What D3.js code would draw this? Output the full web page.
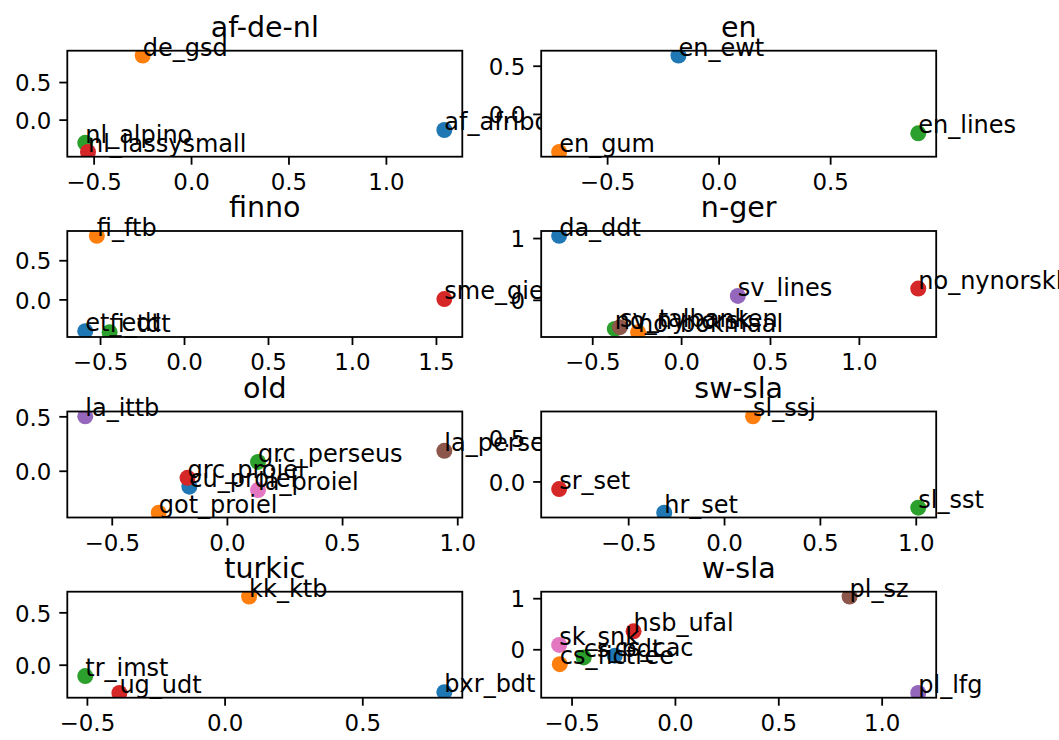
<!DOCTYPE html>
<html>
   <head>
      <meta charset="utf-8">
      <script src="https://d3js.org/d3.v7.min.js"></script>
   </head>

   <style>
      body { margin: 0; background: white; }
      text { font-family: 'DejaVu Sans', sans-serif; }
   </style>
   <body>
      <script>
         let [width, height] = [1059, 740];

         // One entry per subplot, in reading order
         let titles = ['af-de-nl', 'en', 'finno', 'n-ger', 'old', 'sw-sla', 'turkic', 'w-sla'];

         let names = [
            ['af_afribooms', 'de_gsd', 'nl_alpino', 'nl_lassysmall'],
            ['en_ewt', 'en_gum', 'en_lines'],
            ['et_edt', 'fi_ftb', 'fi_tdt', 'sme_giella'],
            ['da_ddt', 'no_bokmaal', 'no_nynorsk', 'no_nynorsklia', 'sv_lines', 'sv_talbanken'],
            ['cu_proiel', 'got_proiel', 'grc_perseus', 'grc_proiel', 'la_ittb', 'la_perseus', 'la_proiel'],
            ['hr_set', 'sl_ssj', 'sl_sst', 'sr_set'],
            ['bxr_bdt', 'kk_ktb', 'tr_imst', 'ug_udt'],
            ['cs_cac', 'cs_fictree', 'cs_pdt', 'hsb_ufal', 'pl_lfg', 'pl_sz', 'sk_snk']
         ];

         let xValues = [
            [1.300, -0.248, -0.543, -0.529],
            [-0.180, -0.715, 0.895],
            [-0.588, -0.519, -0.443, 1.550],
            [-0.686, -0.242, -0.373, 1.334, 0.319, -0.344],
            [-0.163, -0.296, 0.135, -0.171, -0.615, 0.944, 0.135],
            [-0.312, 0.151, 1.013, -0.860],
            [0.798, 0.089, -0.506, -0.382],
            [-0.291, -0.557, -0.441, -0.200, 1.177, 0.845, -0.560]
         ];

         let yValues = [
            [-0.138, 0.853, -0.308, -0.429],
            [0.606, -0.394, -0.201],
            [-0.406, 0.812, -0.419, 0.004],
            [1.036, -0.523, -0.470, 0.183, 0.064, -0.442],
            [-0.146, -0.385, 0.081, -0.065, 0.500, 0.183, -0.177],
            [-0.354, 0.738, -0.297, -0.087],
            [-0.263, 0.651, -0.109, -0.269],
            [-0.126, -0.291, -0.159, 0.351, -0.854, 1.033, 0.086]
         ];

         let xTicks = [
            [-0.5, 0, 0.5, 1.0],
            [-0.5, 0, 0.5],
            [-0.5, 0, 0.5, 1.0, 1.5],
            [-0.5, 0, 0.5, 1.0],
            [-0.5, 0, 0.5, 1.0],
            [-0.5, 0, 0.5, 1.0],
            [-0.5, 0, 0.5],
            [-0.5, 0, 0.5, 1.0]
         ];

         let yTicks = [
            [0, 0.5], [0, 0.5], [0, 0.5], [0, 1],
            [0, 0.5], [0, 0.5], [0, 0.5], [0, 1]
         ];

         let colors = ['#1f77b4', '#ff7f0e', '#2ca02c', '#d62728', '#9467bd', '#8c564b', '#e377c2'];

         // layout (matplotlib-ish, ~165 dpi)
         let colLeft = [67.3, 541.2];
         let rowTop = [50.7, 231, 411.5, 591.7];
         let [boxW, boxH] = [395, 106];
         let tickSize = 22.9, labelSize = 24, titleSize = 28.5;

         let svg = d3.select('body').append('svg').attr('width', width).attr('height', height);
         let defs = svg.append('defs');

         titles.forEach((title, i) => {
            let x0 = colLeft[i % 2], y0 = rowTop[Math.floor(i / 2)];
            let g = svg.append('g').attr('transform', `translate(${x0}, ${y0})`);

            // 5% margins like matplotlib autoscale
            let pad = (ext) => { let m = (ext[1] - ext[0]) * 0.05; return [ext[0] - m, ext[1] + m]; };
            let x = d3.scaleLinear().domain(pad(d3.extent(xValues[i]))).range([0, boxW]);
            let y = d3.scaleLinear().domain(pad(d3.extent(yValues[i]))).range([boxH, 0]);

            let pts = names[i].map((n, j) => ({ name: n, x: xValues[i][j], y: yValues[i][j], c: colors[j] }));

            g.append('rect').attr('width', boxW).attr('height', boxH).attr('fill', 'white');

            defs.append('clipPath').attr('id', 'clip' + i)
               .append('rect').attr('width', boxW).attr('height', boxH);

            g.append('g').attr('clip-path', `url(#clip${i})`)
               .selectAll('circle')
               .data(pts)
               .enter()
               .append('circle')
                  .attr('cx', d => x(d.x))
                  .attr('cy', d => y(d.y))
                  .attr('r', 8)
                  .attr('fill', d => d.c);

            // spines
            g.append('rect').attr('width', boxW).attr('height', boxH)
               .attr('fill', 'none').attr('stroke', 'black').attr('stroke-width', 1.8);

            let fmt = (ticks) => ticks.every(t => Number.isInteger(t)) ? d3.format('d') : d3.format('.1f');

            let xAxis = g.append('g').attr('transform', `translate(0, ${boxH})`)
               .call(d3.axisBottom(x).tickValues(xTicks[i]).tickFormat(fmt(xTicks[i]))
                  .tickSize(8).tickPadding(8).tickSizeOuter(0));
            let yAxis = g.append('g')
               .call(d3.axisLeft(y).tickValues(yTicks[i]).tickFormat(fmt(yTicks[i]))
                  .tickSize(8).tickPadding(8).tickSizeOuter(0));

            [xAxis, yAxis].forEach(a => {
               a.select('.domain').remove();
               a.selectAll('line').attr('stroke', 'black').attr('stroke-width', 1.8);
               a.selectAll('text').attr('fill', 'black')
                  .style('font-size', tickSize + 'px').style('font-family', 'DejaVu Sans');
            });
            xAxis.selectAll('text').attr('dy', '0.76em');
            yAxis.selectAll('text').attr('dy', '0.38em');

            // annotations
            g.selectAll('text.lab')
               .data(pts)
               .enter()
               .append('text')
                  .attr('class', 'lab')
                  .attr('x', d => x(d.x))
                  .attr('y', d => y(d.y))
                  .text(d => d.name)
                  .style('font-size', labelSize + 'px');

            g.append('text')
               .attr('x', boxW / 2)
               .attr('y', -13.8)
               .attr('text-anchor', 'middle')
               .style('font-size', titleSize + 'px')
               .text(title);
         });

      </script>
   </body>
</html>
